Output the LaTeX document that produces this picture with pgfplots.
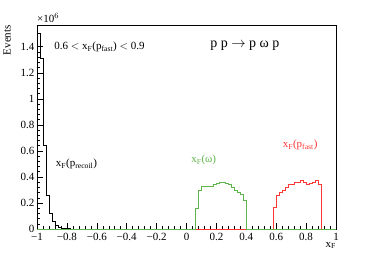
\documentclass[border=0pt]{standalone}
\usepackage{pgfplots}
\pgfplotsset{compat=1.18}
\usepackage{fontspec}
\setmainfont{Liberation Serif}
\definecolor{hgreen}{RGB}{95,180,75}
\definecolor{hred}{RGB}{255,55,55}
\begin{document}
\begin{tikzpicture}
\path[use as bounding box] (-37pt,-26pt) rectangle (337pt,229pt);
\begin{axis}[
  at={(0,0)}, anchor=south west,
  scale only axis, width=299pt, height=204pt,
  xmin=-1, xmax=1, ymin=0, ymax=1.567,
  axis line style={line width=0.7pt},
  tick align=inside, xtick pos=bottom, ytick pos=left,
  major tick length=6pt, minor tick length=3pt,
  tick style={black, line width=0.5pt},
  xtick={-1,-0.8,-0.6,-0.4,-0.2,0,0.2,0.4,0.6,0.8,1},
  xticklabels={−1,−0.8,−0.6,−0.4,−0.2,0,0.2,0.4,0.6,0.8,1},
  ytick={0,0.2,0.4,0.6,0.8,1,1.2,1.4},
  yticklabels={0,0.2,0.4,0.6,0.8,1,1.2,1.4},
  minor tick num=4,
  ticklabel style={font=\fontsize{11}{13}\selectfont},
  xticklabel style={yshift=-1pt},
  yticklabel style={xshift=1pt},
  /pgf/number format/assume math mode=true,
  clip mode=individual,
]
\addplot[const plot, black, line width=0.7pt] coordinates {
(-1,1.50) (-0.98,1.31) (-0.96,0.64) (-0.94,0.26) (-0.92,0.12) (-0.90,0.055)
(-0.88,0.025) (-0.86,0.012) (-0.84,0.006) (-0.82,0.003) (-0.80,0.0015)
(-0.78,0) (1,0)};
\addplot[const plot, hred, line width=0.7pt] coordinates {
(-1,0) (0.58,0.17) (0.60,0.255) (0.62,0.28) (0.64,0.30) (0.66,0.32)
(0.68,0.34) (0.70,0.345) (0.72,0.355) (0.74,0.36) (0.76,0.37) (0.78,0.355)
(0.80,0.345) (0.82,0.35) (0.84,0.355) (0.86,0.375) (0.88,0.345) (0.90,0) (1,0)};
\addplot[const plot, hgreen, line width=0.7pt] coordinates {
(-1,0) (0.06,0.16) (0.08,0.30) (0.10,0.33) (0.12,0.325) (0.14,0.325)
(0.16,0.33) (0.18,0.34) (0.20,0.35) (0.22,0.36) (0.24,0.355) (0.26,0.35)
(0.28,0.34) (0.30,0.32) (0.32,0.30) (0.34,0.28) (0.36,0.265) (0.38,0.22)
(0.40,0) (1,0)};
\node[anchor=west, font=\fontsize{11}{13}\selectfont, inner sep=0pt] at (axis cs:-0.885,1.40)
  {0.6 $<$ x$_{\mathrm{F}}$(p$_{\mathrm{fast}}$) $<$ 0.9};
\node[font=\fontsize{14}{16}\selectfont, inner sep=0pt] at (axis cs:0.39,1.405)
  {p p $\rightarrow$ p ω p};
\node[anchor=west, font=\fontsize{11}{13}\selectfont, inner sep=0pt] at (axis cs:-0.875,0.50)
  {x$_{\mathrm{F}}$(p$_{\mathrm{recoil}}$)};
\node[hgreen, font=\fontsize{11}{13}\selectfont, inner sep=0pt] at (axis cs:0.115,0.53)
  {x$_{\mathrm{F}}$(ω)};
\node[hred, font=\fontsize{11}{13}\selectfont, inner sep=0pt] at (axis cs:0.76,0.645)
  {x$_{\mathrm{F}}$(p$_{\mathrm{fast}}$)};
\node[anchor=south west, font=\fontsize{11}{13}\selectfont, inner sep=0pt] at ([yshift=2pt]rel axis cs:0,1)
  {×10$^{6}$};
\node[anchor=east, rotate=90, font=\fontsize{11}{13}\selectfont, inner sep=0pt] at ([xshift=-30pt]rel axis cs:0,1)
  {Events};
\node[anchor=north east, font=\fontsize{11}{13}\selectfont, inner sep=0pt] at ([yshift=-13pt]rel axis cs:1,0)
  {x$_{\mathrm{F}}$};
\end{axis}
\end{tikzpicture}
\end{document}
